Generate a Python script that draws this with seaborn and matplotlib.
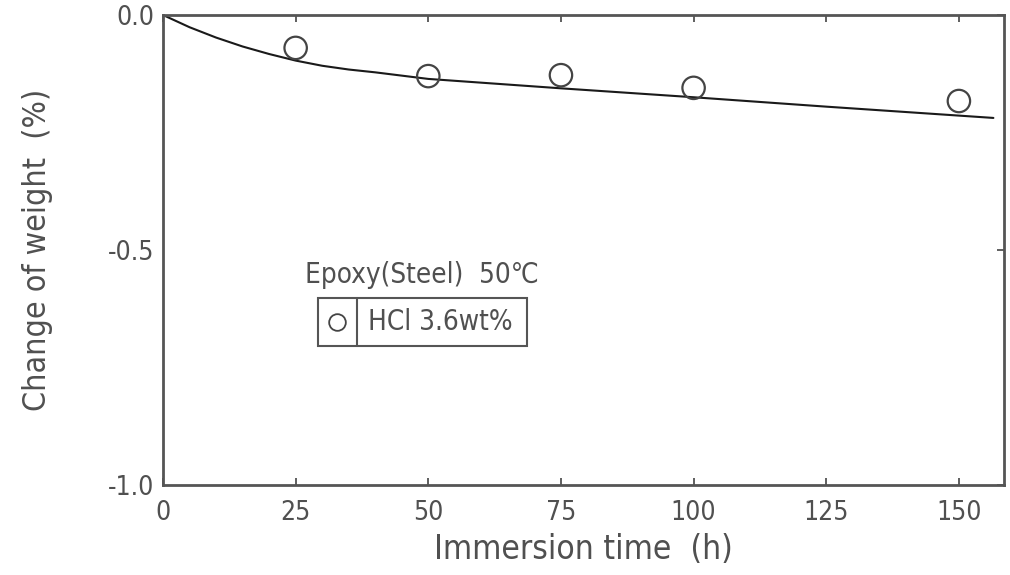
import matplotlib
matplotlib.use("Agg")
import matplotlib.pyplot as plt
from matplotlib.lines import Line2D
from matplotlib.patches import Rectangle
import seaborn as sns
import pandas as pd

# data
time_pts = [25, 50, 75, 100, 150]
weight_pts = [-0.070, -0.130, -0.128, -0.155, -0.183]
curve_t = [0, 5, 10, 15, 20, 25, 30, 35, 40, 50, 75, 100, 125, 156.5]
curve_w = [0, -0.026, -0.048, -0.067, -0.083, -0.097, -0.108, -0.116, -0.122, -0.136, -0.156, -0.175, -0.195, -0.219]
x_ticks = [0, 25, 50, 75, 100, 125, 150]
y_ticks = [0.0, -0.5, -1.0]
y_ticklabels = ["0.0", "-0.5", "-1.0"]

sns.set_theme(style="white")
fams = ["DejaVu Sans"]
plt.rcParams["font.family"] = fams
plt.rcParams["font.stretch"] = "condensed"
TXT = "#505050"

fig = plt.figure(figsize=(10.1, 5.75), dpi=100)
ax = fig.add_axes([163/1010, 1-485/575, (1004-163)/1010, (485-15)/575])

df_c = pd.DataFrame({"t": curve_t, "w": curve_w})
df_p = pd.DataFrame({"t": time_pts, "w": weight_pts})
sns.lineplot(data=df_c, x="t", y="w", ax=ax, color="#1a1a1a", linewidth=1.5)
sns.scatterplot(data=df_p, x="t", y="w", ax=ax, s=260, facecolor="none",
                edgecolor="#444444", linewidth=1.6, marker="o", zorder=3)

ax.set_xlim(0, 158.5)
ax.set_ylim(-1.0, 0.0)
ax.set_xticks(x_ticks)
ax.set_xticklabels([str(v) for v in x_ticks])
ax.set_yticks(y_ticks)
ax.set_yticklabels(y_ticklabels)
ax.tick_params(axis="x", direction="in", top=True, bottom=True, length=5,
               width=1.2, color="#444444", labelsize=19, labelcolor=TXT, pad=11)
ax.tick_params(axis="y", direction="in", left=False, right=True, length=5,
               width=1.2, color="#444444", labelsize=19, labelcolor=TXT, pad=6)
for s in ax.spines.values():
    s.set_color("#555555")
    s.set_linewidth(2.0)
ax.set_xlabel("Immersion time  (h)", fontsize=24, color=TXT, labelpad=5)
ax.set_ylabel("Change of weight  (%)", fontsize=23, color=TXT, labelpad=40)

# legend
ax.text((305-163)/841, 1-(275-15)/470, "Epoxy(Steel)  50℃", transform=ax.transAxes,
        fontsize=20, color=TXT, va="center", ha="left")
x0, x1, xd = (318-163)/841, (527-163)/841, (357-163)/841
y0, y1 = 1-(346-15)/470, 1-(298-15)/470
ax.add_patch(Rectangle((x0, y0), x1-x0, y1-y0, transform=ax.transAxes, fill=False,
                       edgecolor="#555555", linewidth=1.5))
ax.add_line(Line2D([xd, xd], [y0, y1], transform=ax.transAxes, color="#555555", linewidth=1.5))
ax.add_line(Line2D([(337-163)/841], [(y0+y1)/2], transform=ax.transAxes, marker="o",
                   markersize=12, markerfacecolor="none", markeredgecolor="#444444",
                   markeredgewidth=1.3, linestyle="none"))
ax.text((368-163)/841, (y0+y1)/2, "HCl 3.6wt%", transform=ax.transAxes,
        fontsize=20, color=TXT, va="center", ha="left")

fig.savefig("out.png", dpi=100)
